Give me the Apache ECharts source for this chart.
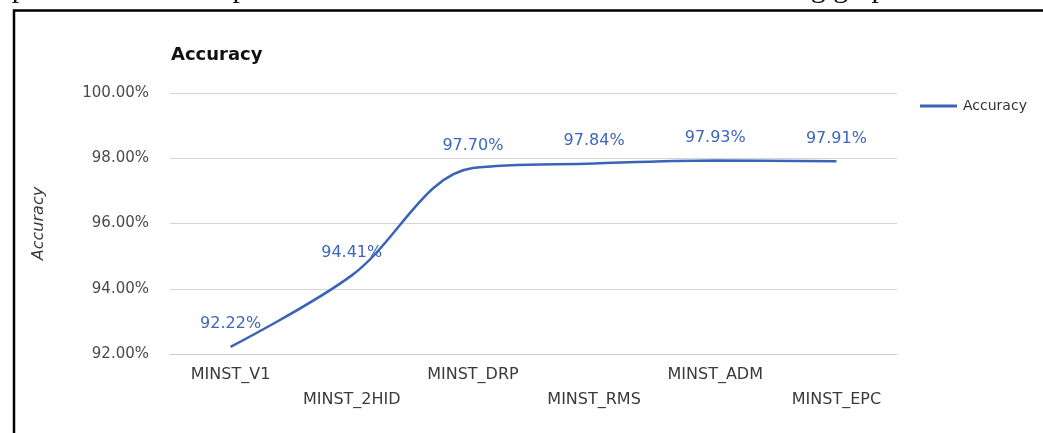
<!DOCTYPE html>
<html>
<head>
<meta charset="utf-8">
<script src="https://cdn.jsdelivr.net/npm/echarts@6/dist/echarts.min.js"></script>
<style>
html,body{margin:0;padding:0;background:#fff;}
#chart{width:1043px;height:433px;}
</style>
</head>
<body>
<div id="chart"></div>
<script>
const categories = ['MINST_V1', 'MINST_2HID', 'MINST_DRP', 'MINST_RMS', 'MINST_ADM', 'MINST_EPC'];
const accuracy = [92.22, 94.41, 97.70, 97.84, 97.93, 97.91];
const yTicks = [92, 94, 96, 98, 100];
const titleText = 'Accuracy';
const seriesName = 'Accuracy';
const yAxisName = 'Accuracy';
const topText = 'computations. Results presented on the chart are shown in the following graph';

const FONT = '"DejaVu Sans", Arial, sans-serif';
const BLUE = '#3b63b6';

const chart = echarts.init(document.getElementById('chart'), null, {renderer: 'canvas'});
chart.setOption({
  animation: false,
  backgroundColor: '#fff',
  title: {
    text: titleText,
    left: 166,
    top: 41,
    textStyle: {fontFamily: FONT, fontSize: 18, fontWeight: 'bold', color: '#111'}
  },
  legend: {
    data: [seriesName],
    left: 915,
    top: 94,
    icon: 'rect',
    itemWidth: 37,
    itemHeight: 3,
    itemGap: 0,
    itemStyle: {color: BLUE, opacity: 1},
    textStyle: {fontFamily: FONT, fontSize: 14, color: '#333', padding: [0, 0, 0, 1]}
  },
  grid: {left: 170, right: 146, top: 93, bottom: 79, containLabel: false},
  xAxis: {
    type: 'category',
    data: categories,
    boundaryGap: true,
    axisLine: {show: true, lineStyle: {color: '#ccc', width: 1}},
    axisTick: {show: false},
    axisLabel: {
      interval: 0,
      margin: 8,
      fontFamily: FONT,
      fontSize: 16,
      color: '#3a3a3a',
      lineHeight: 25,
      verticalAlign: 'top',
      formatter: function (v, i) { return i % 2 === 1 ? '\n' + v : v; }
    }
  },
  yAxis: {
    type: 'value',
    min: yTicks[0],
    max: yTicks[yTicks.length - 1],
    interval: yTicks[1] - yTicks[0],
    name: yAxisName,
    nameLocation: 'middle',
    nameGap: 123,
    nameRotate: 90,
    nameTextStyle: {fontFamily: FONT, fontSize: 16, fontStyle: 'italic', color: '#3a3a3a'},
    axisLine: {show: false},
    axisTick: {show: false},
    axisLabel: {
      margin: 21,
      fontFamily: FONT,
      fontSize: 15,
      color: '#4a4a4a',
      formatter: function (v) { return v.toFixed(2) + '%'; }
    },
    splitLine: {show: true, lineStyle: {color: '#d4d4d4', width: 1}}
  },
  series: [{
    name: seriesName,
    type: 'line',
    data: accuracy,
    smooth: 0.35,
    showSymbol: true,
    symbol: 'circle',
    symbolSize: 1,
    itemStyle: {color: 'rgba(0,0,0,0)', borderWidth: 0},
    lineStyle: {color: BLUE, width: 2.5},
    label: {
      show: true,
      position: 'top',
      distance: 14,
      fontFamily: FONT,
      fontSize: 16,
      color: '#3d66bd',
      formatter: function (p) { return p.value.toFixed(2) + '%'; }
    }
  }],
  graphic: [
    {
      type: 'rect',
      shape: {x: 14, y: 10.5, width: 1100, height: 500},
      style: {fill: 'none', stroke: '#000', lineWidth: 2.5},
      silent: true
    },
    {
      type: 'text',
      left: -40,
      top: -26,
      style: {text: topText, font: '30px "Liberation Serif", serif', fill: '#111'},
      silent: true
    }
  ]
});
</script>
</body>
</html>
